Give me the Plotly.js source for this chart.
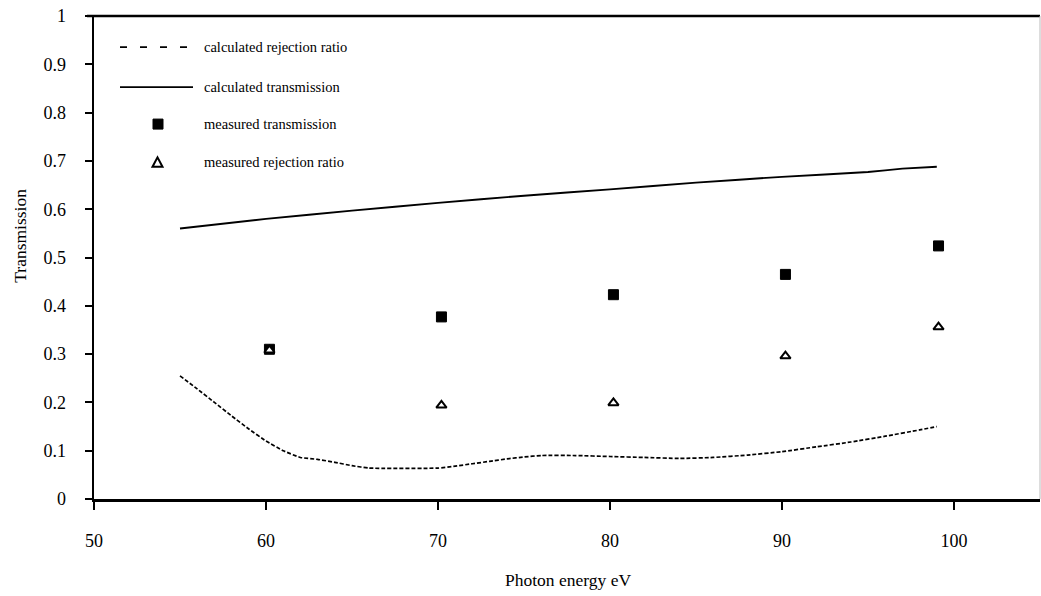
<!DOCTYPE html>
<html>
<head>
<meta charset="utf-8">
<script src="https://cdn.plot.ly/plotly-3.0.1.min.js"></script>
<style>
  html, body { margin: 0; padding: 0; background: #fff; }
  #chart { width: 1041px; height: 596px; }
</style>
</head>
<body>
<div id="chart"></div>
<script>
// Calculated transmission curve (photon energy in eV)
const calcTransEnergy = [55, 60, 65, 70, 75, 80, 85, 90, 95, 97, 99];
const calcTransValue  = [0.560, 0.580, 0.597, 0.613, 0.628, 0.641, 0.655, 0.667, 0.677, 0.684, 0.688];

// Calculated rejection ratio curve
const calcRejEnergy = [55, 56, 57, 58, 59, 60, 61, 62, 63, 64, 65, 66, 70, 71, 72, 73, 74, 75, 76, 78, 80, 82, 84, 86, 88, 90, 92, 94, 96, 98, 99];
const calcRejValue  = [0.255, 0.228, 0.200, 0.172, 0.145, 0.120, 0.100, 0.086, 0.082, 0.076, 0.069, 0.064, 0.064, 0.068, 0.073, 0.078, 0.083, 0.087, 0.090, 0.090, 0.088, 0.086, 0.084, 0.086, 0.091, 0.098, 0.108, 0.118, 0.130, 0.143, 0.150];

// Measured points
const measEnergy = [60.2, 70.2, 80.2, 90.2, 99.1];
const measTrans  = [0.310, 0.377, 0.423, 0.465, 0.524];
const measRej    = [0.308, 0.194, 0.199, 0.296, 0.356];

// Axis ticks
const xTicks = [50, 60, 70, 80, 90, 100];
const yTicks = [0, 0.1, 0.2, 0.3, 0.4, 0.5, 0.6, 0.7, 0.8, 0.9, 1];
const yTickText = ['0', '0.1', '0.2', '0.3', '0.4', '0.5', '0.6', '0.7', '0.8', '0.9', '1'];

// Legend entries
const legendLabels = ['calculated rejection ratio', 'calculated transmission', 'measured transmission', 'measured rejection ratio'];

const W = 1041, H = 596;
const M = {l: 94, r: 1, t: 15.5, b: 97};
const plotW = W - M.l - M.r, plotH = H - M.t - M.b;
const px = x => (x - M.l) / plotW;          // pixel -> paper x
const py = y => (H - M.b - y) / plotH;      // pixel -> paper y

const serif = 'Liberation Serif, Times New Roman, serif';

const traces = [
  {
    x: calcRejEnergy, y: calcRejValue, type: 'scatter', mode: 'lines',
    line: {color: '#000', width: 1.7, dash: '4px,2px', shape: 'spline', smoothing: 0.4},
    showlegend: false, hoverinfo: 'skip'
  },
  {
    x: calcTransEnergy, y: calcTransValue, type: 'scatter', mode: 'lines',
    line: {color: '#000', width: 1.9, shape: 'spline', smoothing: 0.3},
    showlegend: false, hoverinfo: 'skip'
  },
  {
    x: measEnergy, y: measTrans, type: 'scatter', mode: 'markers',
    marker: {symbol: 'square', size: 10, color: '#000', line: {color: '#000', width: 1}},
    showlegend: false, hoverinfo: 'skip'
  },
  {
    x: measEnergy, y: measRej, type: 'scatter', mode: 'markers',
    marker: {symbol: 'triangle-up', size: 9, color: '#fff', line: {color: '#000', width: 2}},
    showlegend: false, hoverinfo: 'skip'
  }
];

// Hand-built legend in the upper left of the plot area
const rowY = [46.7, 86.7, 123.7, 162];
const shapes = [];
const annotations = [];

shapes.push({type: 'line', xref: 'paper', yref: 'paper',
  x0: px(120), x1: px(193), y0: py(rowY[0]), y1: py(rowY[0]),
  line: {color: '#000', width: 1.7, dash: '7px,13px'}});
shapes.push({type: 'line', xref: 'paper', yref: 'paper',
  x0: px(120), x1: px(193), y0: py(rowY[1]), y1: py(rowY[1]),
  line: {color: '#000', width: 1.9}});
shapes.push({type: 'rect', xref: 'paper', yref: 'paper',
  x0: px(153), x1: px(163), y0: py(rowY[2] + 5), y1: py(rowY[2] - 5),
  fillcolor: '#000', line: {color: '#000', width: 1}});
shapes.push({type: 'path', xref: 'paper', yref: 'paper',
  path: 'M ' + px(152.5) + ' ' + py(rowY[3] + 4.5) + ' L ' + px(162.5) + ' ' + py(rowY[3] + 4.5) +
        ' L ' + px(157.5) + ' ' + py(rowY[3] - 5) + ' Z',
  fillcolor: '#fff', line: {color: '#000', width: 2}});

legendLabels.forEach((lab, i) => {
  annotations.push({
    text: lab, xref: 'paper', yref: 'paper', x: px(202), y: py(rowY[i]),
    xanchor: 'left', yanchor: 'middle', showarrow: false,
    font: {family: serif, size: 14.5, color: '#000'}
  });
});

// Frame: heavy top rule and thin right edge
shapes.push({type: 'line', xref: 'paper', yref: 'paper',
  x0: px(87), x1: 1, y0: 1, y1: 1, line: {color: '#000', width: 2.5}});
shapes.push({type: 'line', xref: 'paper', yref: 'paper',
  x0: 1, x1: 1, y0: 0, y1: 1, line: {color: '#bbb', width: 1}});

// Axis titles
annotations.push({
  text: 'Transmission', xref: 'paper', yref: 'paper', x: px(20.5), y: py(236),
  textangle: -90, showarrow: false, xanchor: 'center', yanchor: 'middle',
  font: {family: serif, size: 17.5, color: '#000'}
});
annotations.push({
  text: 'Photon energy eV', xref: 'paper', yref: 'paper', x: px(568), y: py(580),
  showarrow: false, xanchor: 'center', yanchor: 'middle',
  font: {family: serif, size: 17.5, color: '#000'}
});

const layout = {
  width: W, height: H,
  margin: M,
  paper_bgcolor: '#fff', plot_bgcolor: '#fff',
  showlegend: false,
  xaxis: {
    range: [50, 105], tickvals: xTicks, ticktext: xTicks.map(String),
    showgrid: false, zeroline: false,
    showline: true, linecolor: '#000', linewidth: 2.5,
    ticks: 'outside', ticklen: 8, tickwidth: 2, tickcolor: '#000',
    ticklabelstandoff: 16,
    tickfont: {family: serif, size: 18, color: '#000'}
  },
  xaxis2: {
    range: [50, 105], overlaying: 'x', anchor: 'y', side: 'bottom',
    tickvals: xTicks, showticklabels: false, showgrid: false, zeroline: false,
    showline: false, ticks: 'inside', ticklen: 7, tickwidth: 2, tickcolor: '#000'
  },
  yaxis: {
    range: [0, 1], tickvals: yTicks, ticktext: yTickText,
    showgrid: false, zeroline: false,
    showline: true, linecolor: '#000', linewidth: 2.5,
    ticks: 'outside', ticklen: 7, tickwidth: 2, tickcolor: '#000',
    ticklabelstandoff: 15,
    tickfont: {family: serif, size: 18, color: '#000'}
  },
  yaxis2: {
    range: [0, 1], overlaying: 'y', anchor: 'x', side: 'left',
    tickvals: yTicks, showticklabels: false, showgrid: false, zeroline: false,
    showline: false, ticks: 'inside', ticklen: 7, tickwidth: 2, tickcolor: '#000'
  },
  shapes: shapes,
  annotations: annotations
};

Plotly.newPlot('chart', traces, layout, {staticPlot: true, displayModeBar: false});
</script>
</body>
</html>
